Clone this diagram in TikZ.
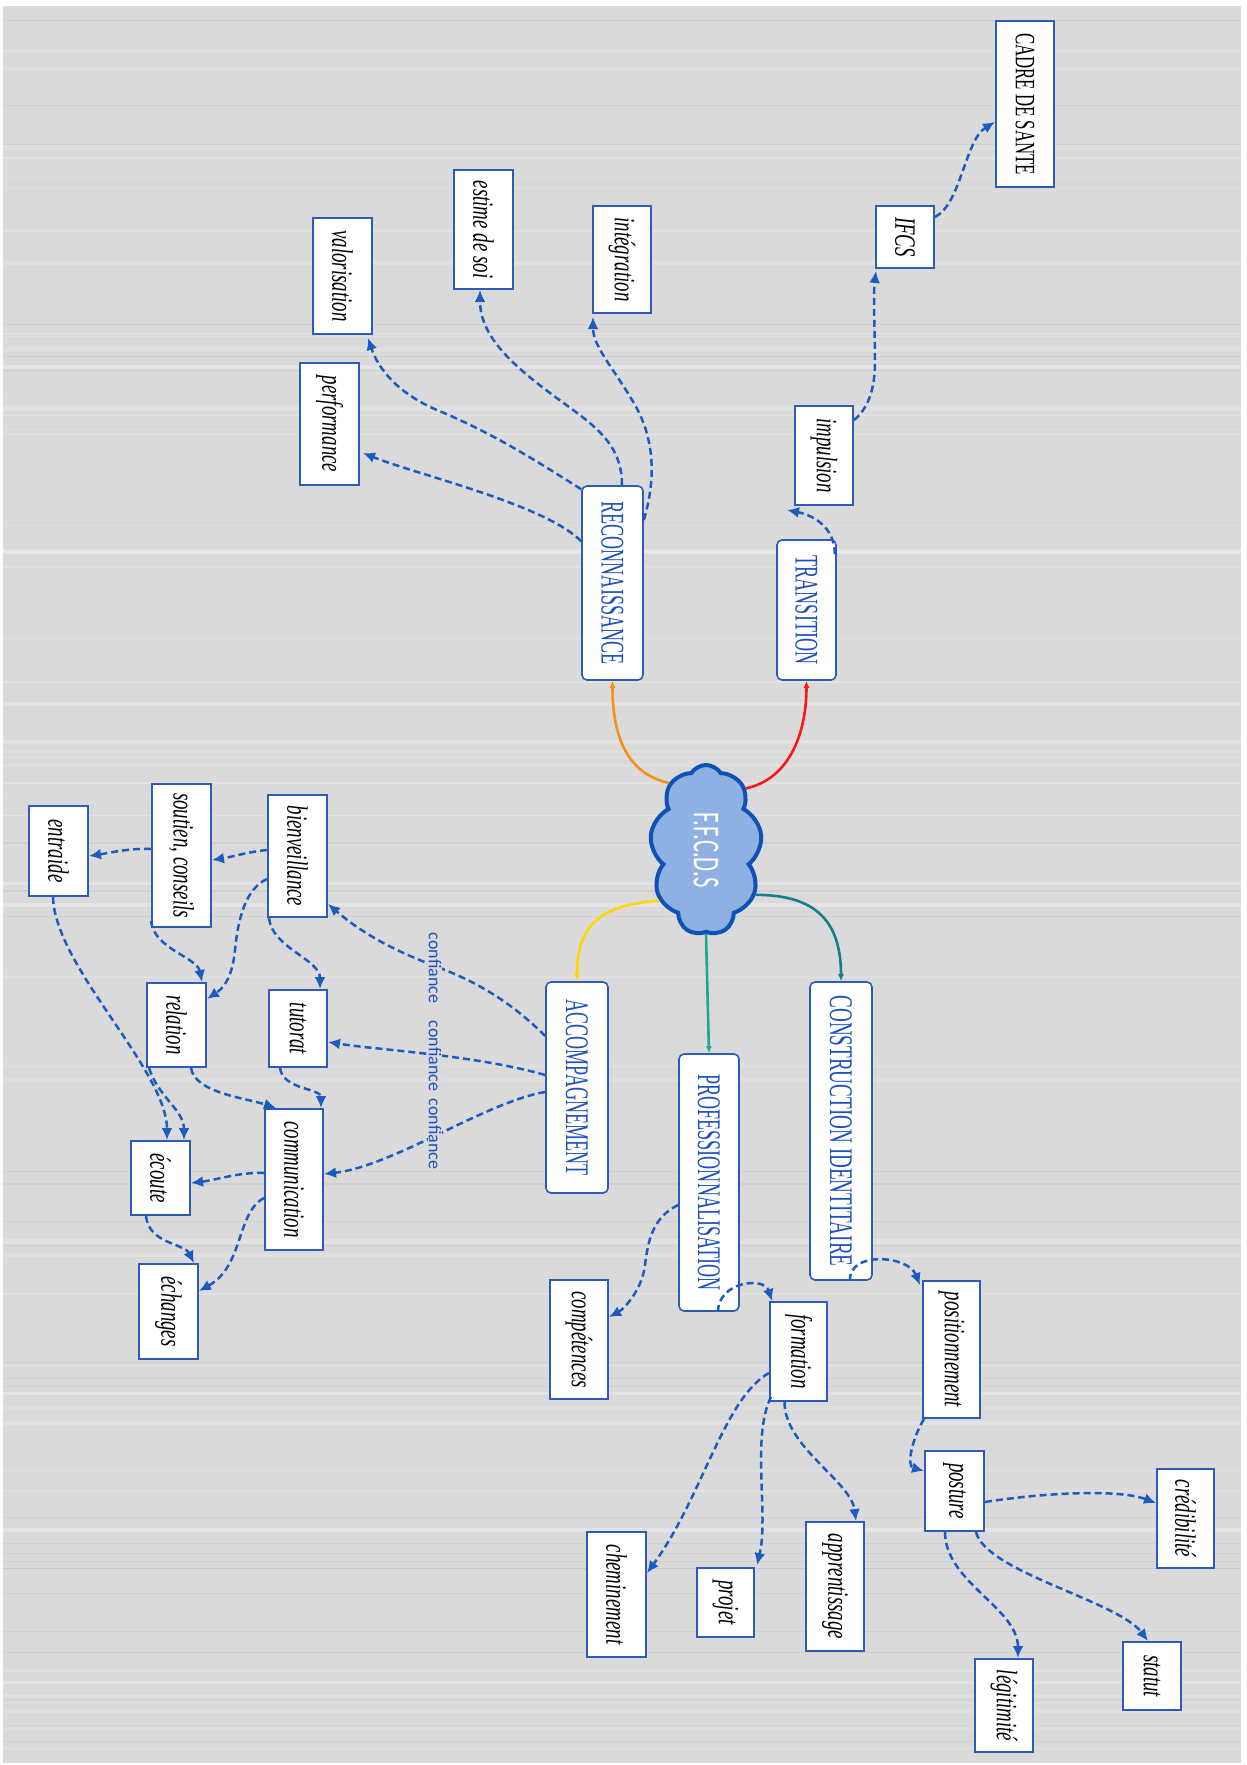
\documentclass[tikz,border=0pt]{standalone}
\usepackage{fontspec}
\setmainfont{Liberation Serif}
\newfontfamily\carlito{Carlito}
\usepackage{graphicx}
\usetikzlibrary{arrows.meta,shapes.symbols,calc}
\definecolor{bgcol}{RGB}{218,218,218}
\definecolor{boxblue}{RGB}{47,90,184}
\definecolor{textblue}{RGB}{30,80,190}
\definecolor{arrowblue}{RGB}{28,92,190}
\definecolor{cloudfill}{RGB}{143,176,226}
\definecolor{cloudline}{RGB}{14,82,182}
\definecolor{redc}{RGB}{250,25,25}
\definecolor{orangec}{RGB}{245,145,20}
\definecolor{yellowc}{RGB}{255,215,0}
\definecolor{greenc}{RGB}{30,168,140}
\definecolor{tealc}{RGB}{22,128,138}
\newcommand\subtxt[2][0.64]{\rotatebox{-90}{\scalebox{#1}[1]{\fontsize{29.5}{31}\selectfont\itshape #2}}}
\newcommand\subup[2][0.6]{\rotatebox{-90}{\scalebox{#1}[1]{\fontsize{28}{30}\selectfont #2}}}
\newcommand\maintxt[2][0.55]{\rotatebox{-90}{\scalebox{#1}[1]{\fontsize{33}{36}\selectfont\color{textblue}#2}}}
\newcommand\bx[5]{\node[subbox,minimum width=#3pt,minimum height=#4pt] (#1) at (#2) {#5};}
\newcommand\mbx[5]{\node[mainbox,minimum width=#3pt,minimum height=#4pt] (#1) at (#2) {#5};}
\tikzset{
  subbox/.style={draw=boxblue,line width=2pt,fill=white,inner sep=0pt},
  mainbox/.style={draw=boxblue,line width=1.6pt,fill=white,inner sep=0pt,rounded corners=5pt},
  dar/.style={draw=arrowblue,line width=2.5pt,dash pattern=on 7pt off 4pt,-{Latex[length=12pt,width=11pt]}},
  car/.style={line width=2.6pt,-{Latex[length=7pt,width=6pt]}},
  conflbl/.style={fill=bgcol,inner sep=1pt,text=textblue,font=\carlito\fontsize{18}{20}\selectfont}
}
\begin{document}
\begin{tikzpicture}[x=1pt,y=-1pt]
\useasboundingbox (0,0) rectangle (1247,1765);
\fill[white] (0,0) rectangle (1247,1765);
\fill[bgcol] (3,6) rectangle (1241,1763);
\pgfmathsetseed{42}
\foreach \k in {1,...,60}{
  \pgfmathsetmacro{\yy}{8+1750*rnd}
  \pgfmathsetmacro{\ww}{1+4*rnd}
  \pgfmathsetmacro{\oo}{0.08+0.2*rnd}
  \draw[white,line width=\ww pt,opacity=\oo] (3,\yy) -- (1241,\yy);
}
\foreach \k in {1,...,30}{
  \pgfmathsetmacro{\yy}{8+1750*rnd}
  \pgfmathsetmacro{\ww}{0.5+1.2*rnd}
  \draw[gray,line width=\ww pt,opacity=0.1] (3,\yy) -- (1241,\yy);
}

% central cloud
\node[cloud,cloud puffs=9,cloud puff arc=115,cloud ignores aspect,draw=cloudline,fill=cloudfill,line width=4pt,
  minimum width=112pt,minimum height=170pt,inner sep=0pt] (ffcds) at (706,850)
  {\rotatebox{-90}{\scalebox{0.6}[1]{\fontsize{38}{40}\selectfont\carlito\color{white}F.F.C.D.S}}};

% main boxes
\mbx{trans}{806.5,610}{59}{140}{\maintxt{TRANSITION}}
\mbx{reco}{612.5,583}{61}{194}{\maintxt{RECONNAISSANCE}}
\mbx{accomp}{577,1087.5}{62}{211}{\maintxt{ACCOMPAGNEMENT}}
\mbx{prof}{709,1182.5}{60}{257}{\maintxt{PROFESSIONNALISATION}}
\mbx{ci}{841,1131}{62}{298}{\maintxt[0.58]{CONSTRUCTION IDENTITAIRE}}

% sub boxes
\bx{cadre}{1025,104}{58}{166}{\subup{CADRE DE SANTE}}
\bx{ifcs}{905,237}{58}{62}{\subtxt{IFCS}}
\bx{impulsion}{824,455.5}{58}{99}{\subtxt{impulsion}}
\bx{integ}{622,259.5}{58}{107}{\subtxt{intégration}}
\bx{estime}{483.5,229.5}{59}{119}{\subtxt{estime de soi}}
\bx{valor}{342.5,276}{59}{116}{\subtxt{valorisation}}
\bx{perf}{329.5,424}{59}{122}{\subtxt{performance}}
\bx{bienv}{297.5,856}{59}{122}{\subtxt{bienveillance}}
\bx{soutien}{181.5,855.5}{59}{143}{\subtxt{soutien, conseils}}
\bx{entraide}{58.5,851}{59}{90}{\subtxt{entraide}}
\bx{relation}{176.5,1025}{59}{84}{\subtxt{relation}}
\bx{tutorat}{298,1028.5}{58}{77}{\subtxt{tutorat}}
\bx{commun}{294,1179.5}{58}{141}{\subtxt{communication}}
\bx{ecoute}{160.5,1178}{59}{74}{\subtxt{écoute}}
\bx{echanges}{168.5,1311.5}{59}{95}{\subtxt{échanges}}
\bx{compet}{579,1339.5}{58}{119}{\subtxt{compétences}}
\bx{position}{951.5,1349.5}{57}{137}{\subtxt{positionnement}}
\bx{formation}{798.5,1351.5}{57}{99}{\subtxt{formation}}
\bx{posture}{954.5,1491}{59}{80}{\subtxt{posture}}
\bx{credib}{1185.5,1518.5}{57}{99}{\subtxt{crédibilité}}
\bx{statut}{1152,1676}{58}{68}{\subtxt{statut}}
\bx{legit}{1004,1705.5}{58}{93}{\subtxt{légitimité}}
\bx{appren}{835,1586.5}{58}{129}{\subtxt{apprentissage}}
\bx{projet}{725.5,1602.5}{57}{69}{\subtxt{projet}}
\bx{chemin}{616.5,1594.5}{59}{125}{\subtxt{cheminement}}

% coloured connectors from the cloud
\draw[car,draw=redc] (ffcds.57) .. controls +(45,-10) and +(0,50) .. (trans.south);
\draw[car,draw=orangec] (ffcds.119) .. controls +(-45,-10) and +(0,50) .. (reco.south);
\draw[car,draw=yellowc] (ffcds.227) .. controls +(-55,5) and +(0,-60) .. (accomp.north);
\draw[car,draw=greenc] (ffcds.south) -- (prof.north);
\draw[car,draw=tealc] (ffcds.-42) .. controls +(60,0) and +(0,-60) .. (ci.north);

% dashed connectors
\draw[dar] ($(trans.north east)+(-2,15)$) .. controls +(0,-28) and +(25,5) .. ($(impulsion.south west)+(-7,4)$);
\draw[dar] ($(impulsion.north east)+(0,15)$) .. controls +(15,-12) and +(0,25) .. (875,362) .. controls +(0,-25) and +(-3,25) .. ($(ifcs.south west)+(1,2)$);
\draw[dar] ($(ifcs.north east)+(0,12)$) .. controls +(26,-13) and +(-30,18) .. ($(cadre.west)+(0,18)$);
\draw[dar] ($(reco.east)+(0,-63)$) .. controls +(12,-40) and +(20,35) .. (635,405) .. controls +(-20,-35) and +(0,30) .. ($(integ.south west)+(1,3)$);
\draw[dar] ($(reco.north)+(9.5,0)$) .. controls +(0,-45) and +(40,30) .. (550,393) .. controls +(-40,-30) and +(0,45) .. ($(estime.south)+(-3.5,0)$);
\draw[dar] ($(reco.north west)+(0,4)$) .. controls +(-40,-25) and +(60,25) .. (437,410) .. controls +(-40,-17) and +(10,30) .. ($(valor.south east)+(-5,3)$);
\draw[dar] ($(reco.north west)+(0,56)$) .. controls +(-37,-37) and +(55,22) .. ($(perf.east)+(3,29)$);

\draw[dar] ($(accomp.west)+(0,-51.5)$) .. controls +(-35,-35) and +(40,15) .. (435,966) .. controls +(-40,-15) and +(35,30) .. ($(bienv.east)+(0,48)$);
\draw[dar] ($(accomp.west)+(0,-12.5)$) .. controls +(-70,-20) and +(50,8) .. ($(tutorat.east)+(0,13.5)$);
\draw[dar] ($(accomp.west)+(0,4.5)$) .. controls +(-60,10) and +(70,-8) .. ($(commun.east)+(0,-5.5)$);

\draw[dar] ($(bienv.west)+(0,-6)$) .. controls +(-20,2) and +(20,-3) .. ($(soutien.east)+(0,4.5)$);
\draw[dar] ($(bienv.west)+(0,23)$) .. controls +(-22,10) and +(3,-30) .. (235,950) .. controls +(-3,30) and +(15,-10) .. ($(relation.east)+(0,-26)$);
\draw[dar] ($(bienv.south west)+(2,0)$) .. controls +(3,30) and +(0,-30) .. ($(tutorat.north east)+(-8,0)$);
\draw[dar] ($(soutien.west)+(0,-6.5)$) .. controls +(-22,-1) and +(20,-3) .. ($(entraide.east)+(0,5)$);
\draw[dar] ($(soutien.south west)+(0,-7)$) .. controls +(3,28) and +(-5,-25) .. ($(relation.north east)+(-5,0)$);
\draw[dar] ($(entraide.south)+(-5.5,0)$) .. controls +(2,70) and +(0,-70) .. ($(ecoute.north)+(6.5,0)$);
\draw[dar] ($(relation.south)+(14.5,0)$) .. controls +(4,25) and +(-30,-10) .. ($(commun.north)+(-18,0)$);
\draw[dar] ($(relation.south west)+(3,0)$) .. controls +(10,30) and +(0,-30) .. ($(ecoute.north east)+(-7,0)$);
\draw[dar] ($(tutorat.south)+(-18,0)$) .. controls +(3,22) and +(0,-20) .. ($(commun.north east)+(-3,0)$);
\draw[dar] ($(commun.west)+(0,-6.5)$) .. controls +(-25,-1) and +(25,-3) .. ($(ecoute.east)+(0,5)$);
\draw[dar] ($(commun.west)+(0,18.5)$) .. controls +(-28,15) and +(45,-25) .. ($(echanges.east)+(0,-20.5)$);
\draw[dar] ($(ecoute.south)+(-14.5,0)$) .. controls +(3,28) and +(-10,-20) .. ($(echanges.north east)+(-5,0)$);

\draw[dar] ($(prof.west)+(0,22.5)$) .. controls +(-25,12) and +(3,-25) .. (645,1265) .. controls +(-3,25) and +(15,-8) .. ($(compet.east)+(0,-22.5)$);
\draw[dar] ($(prof.south)+(9,0)$) .. controls +(0,-30) and +(-8,-25) .. ($(formation.north west)+(3,0)$);
\draw[dar] ($(ci.south)+(9,0)$) .. controls +(-2,-30) and +(-12,-30) .. ($(position.north west)+(-2,5)$);
\draw[dar] ($(position.south west)+(2,0)$) .. controls +(-12,20) and +(-18,-5) .. ($(posture.north west)+(0,21)$);
\draw[dar] ($(posture.east)+(0,11)$) .. controls +(50,-8) and +(-40,-15) .. ($(credib.west)+(0,-15.5)$);
\draw[dar] ($(posture.south east)+(-9,0)$) .. controls +(10,40) and +(-30,-40) .. ($(statut.north)+(-4,0)$);
\draw[dar] ($(posture.south)+(-9.5,0)$) .. controls +(0,50) and +(0,-50) .. ($(legit.north)+(14,0)$);
\draw[dar] ($(formation.west)+(0,21.5)$) .. controls +(-45,25) and +(55,-75) .. ($(chemin.east)+(0,-21.5)$);
\draw[dar] ($(formation.south west)+(2,-5)$) .. controls +(-20,40) and +(12,-50) .. ($(projet.north east)+(2,-2)$);
\draw[dar] ($(formation.south)+(-14,0)$) .. controls +(0,45) and +(-5,-40) .. ($(appren.north east)+(-9,0)$);

% labels
\node[conflbl] (conf1) at (435,968) {\rotatebox{-90}{confiance}};
\node[conflbl] (conf2) at (435,1056) {\rotatebox{-90}{confiance}};
\node[conflbl] (conf3) at (435,1134) {\rotatebox{-90}{confiance}};
\end{tikzpicture}
\end{document}
